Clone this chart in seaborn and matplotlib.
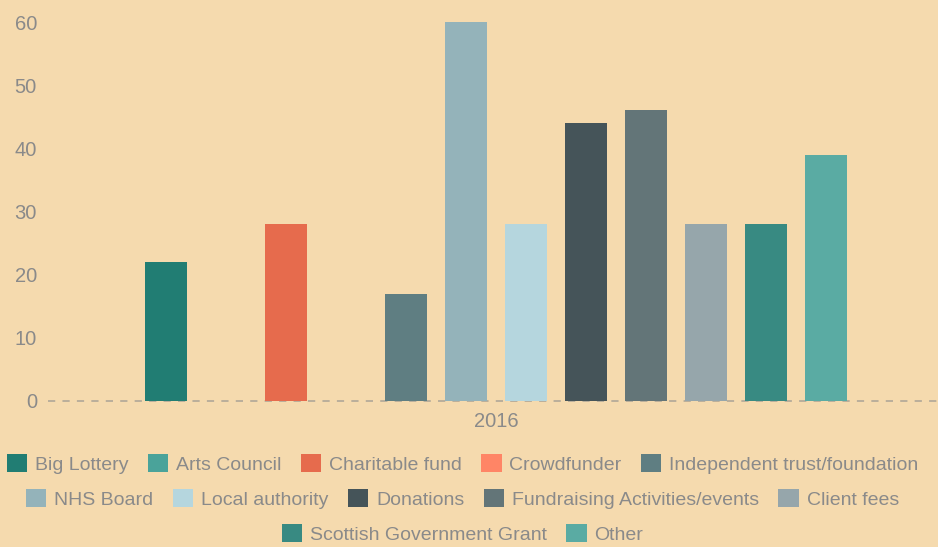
import pandas as pd
import seaborn as sns
import matplotlib.pyplot as plt
from matplotlib.patches import Patch

# ── Data ────────────────────────────────────────────────────────────────────
year = "2016"
sources = [
    "Big Lottery", "Arts Council", "Charitable fund", "Crowdfunder",
    "Independent trust/foundation", "NHS Board", "Local authority",
    "Donations", "Fundraising Activities/events", "Client fees",
    "Scottish Government Grant", "Other",
]
values = [22, 0, 28, 0, 17, 60, 28, 44, 46, 28, 28, 39]
colors = [
    "#217d73", "#4aa39a", "#e66b4d", "#ff8566", "#5f7e82", "#94b3ba",
    "#b5d6de", "#455459", "#637578", "#96a6ab", "#388a82", "#5aaba3",
]
yticks = [0, 10, 20, 30, 40, 50, 60]
legend_rows = [sources[0:5], sources[5:10], sources[10:12]]

bg = "#f5daae"
txt = "#8a8a8a"

df = pd.DataFrame({"year": year, "source": sources, "value": values})

sns.set_theme(style="white")
plt.rcParams["font.family"] = ["Liberation Sans", "DejaVu Sans"]

fig = plt.figure(figsize=(9.38, 5.47), dpi=100, facecolor=bg)
ax = fig.add_axes([48 / 938, 146 / 547, 890 / 938, 379 / 547])
ax.set_facecolor(bg)

sns.barplot(data=df, x="year", y="value", hue="source", hue_order=sources,
            palette=colors, saturation=1, width=0.8, gap=0.3, linewidth=0,
            legend=False, ax=ax)

# ── Axes styling ────────────────────────────────────────────────────────────
ax.set_xlim(-0.4978, 0.4911)
ax.set_ylim(0, 60)
ax.set_yticks(yticks)
ax.set_xlabel("")
ax.set_ylabel("")
for s in ax.spines.values():
    s.set_visible(False)
ax.axhline(0, color="#b5ab9a", lw=1.3, ls=(0, (4, 4)), clip_on=False, zorder=0)
ax.tick_params(axis="y", length=0, pad=8, labelsize=14.5, labelcolor=txt)
ax.tick_params(axis="x", length=0, pad=8, labelsize=14.5, labelcolor=txt)

# ── Legend: three centred rows ──────────────────────────────────────────────
cmap = dict(zip(sources, colors))
row_y = [1 - 464 / 547, 1 - 499 / 547, 1 - 534 / 547]
for names, yy in zip(legend_rows, row_y):
    handles = [Patch(facecolor=cmap[n], edgecolor="none", label=n) for n in names]
    leg = fig.legend(handles=handles, loc="center", bbox_to_anchor=(462.5 / 938, yy),
                     ncol=len(names), frameon=False, fontsize=14,
                     handlelength=1.05, handleheight=1.05, handletextpad=0.4,
                     columnspacing=1.0, borderaxespad=0, borderpad=0)
    for t in leg.get_texts():
        t.set_color(txt)

fig.savefig("out.png", dpi=100, facecolor=bg)
